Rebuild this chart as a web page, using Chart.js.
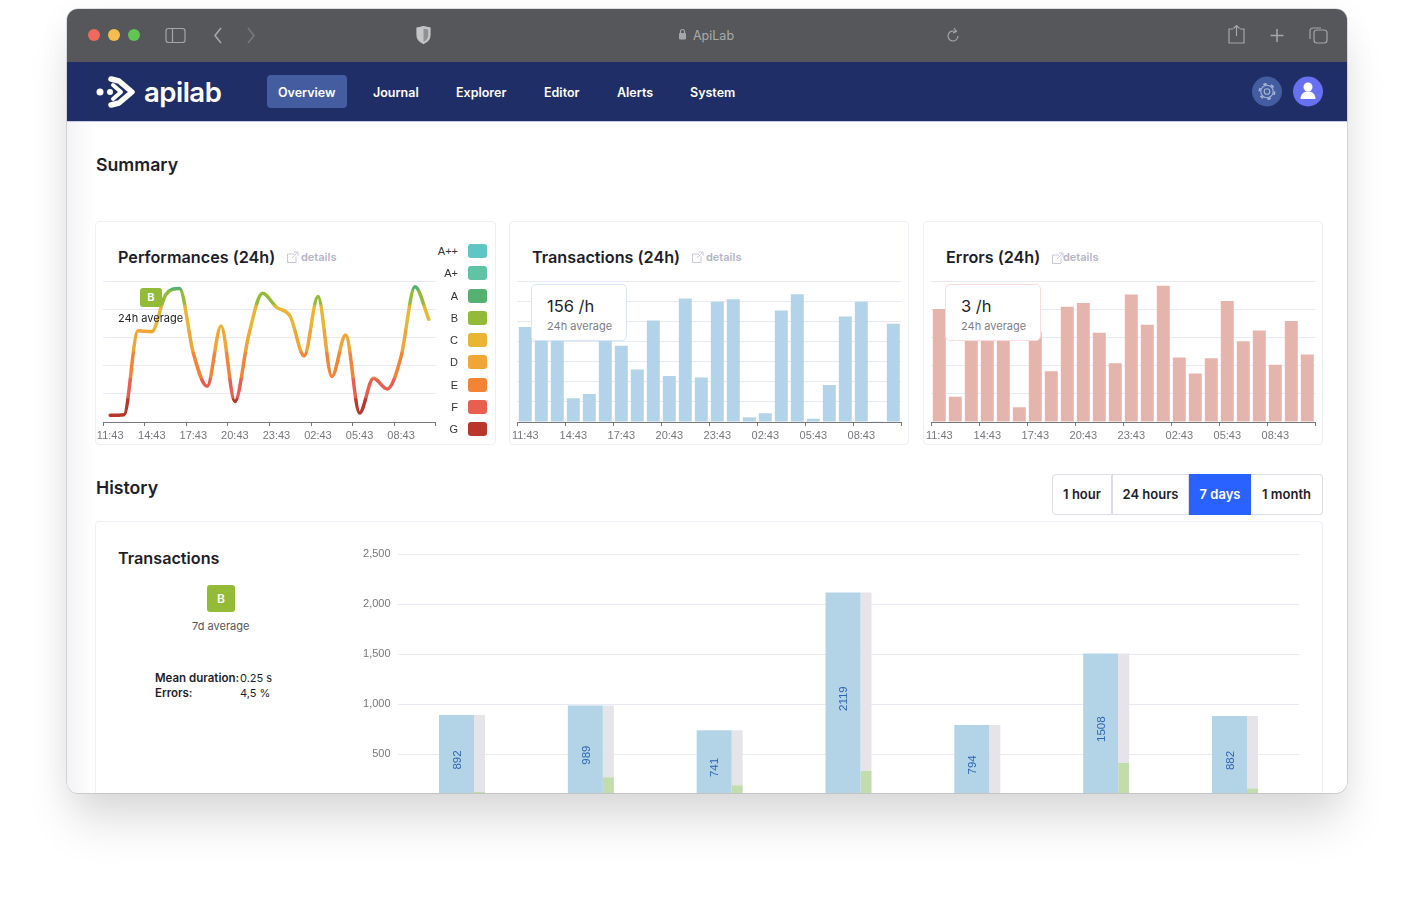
<!DOCTYPE html>
<html>
<head>
<meta charset="utf-8">
<title>ApiLab</title>
<script src="https://cdn.jsdelivr.net/npm/chart.js@4/dist/chart.umd.min.js"></script>
<style>
    html, body { margin: 0; padding: 0; background: #fff; overflow: hidden; }
    body { width: 1414px; height: 918px; position: relative; font-family: Inter, sans-serif; color: #1e1e2a; }
    .abs, canvas { position: absolute; }
    .win { position: absolute; left: 67px; top: 9px; width: 1280px; height: 784px; border-radius: 11px; box-shadow: 0 34px 46px -4px rgba(0,0,0,.12), 0 6px 34px rgba(0,0,0,.05); }
    .clip { position: absolute; left: 67px; top: 9px; width: 1280px; height: 784px; border-radius: 11px; overflow: hidden; background: #fff; box-shadow: 0 0 0 .5px rgba(0,0,0,.22); }
    .inner { position: absolute; left: -67px; top: -9px; width: 1414px; height: 918px; }
    .strip { left: 67px; top: 122px; width: 28px; height: 680px; background: linear-gradient(90deg, #f3f2f5, #fff); }
    .titlebar { left: 67px; top: 9px; width: 1280px; height: 53px; background: #55575a; }
    .navbar { left: 67px; top: 62px; width: 1280px; height: 59px; background: #1f2e66; border-bottom: 1px solid #c9cbe6; }
    .active { left: 267px; top: 75px; width: 80px; height: 33px; border-radius: 4px; background: #435da0; }
    .nav { top: 84.5px; color: #fff; font-size: 12.5px; font-weight: 600; line-height: 16px; white-space: nowrap; }
    .url { left: 693px; top: 27.5px; font-size: 12.5px; line-height: 16px; color: #a9abae; }
    .logo { left: 144px; top: 72px; font-size: 27.5px; line-height: 40px; font-weight: 600; color: #fff; letter-spacing: -.5px; }
    .card { background: #fff; border: 1px solid #eeeef5; border-radius: 4px; box-sizing: border-box; }
    .heading { font-size: 17.7px; font-weight: 600; line-height: 22px; white-space: nowrap; }
    .title { font-size: 16.2px; font-weight: 600; line-height: 20px; white-space: nowrap; }
    .details { font-size: 11px; font-weight: 600; line-height: 14px; color: #b5b4c9; white-space: nowrap; }
    .grade { width: 40px; text-align: right; font-size: 11px; line-height: 14px; color: #333; font-family: "Liberation Sans", sans-serif; }
    .swatch { left: 468px; width: 19px; height: 14px; border-radius: 3px; }
    .badge { background: #93bb37; color: #fff; border-radius: 3px; font-weight: 600; text-align: center; }
    .avg { background: #fff; border-radius: 5px; box-sizing: border-box; width: 96px; height: 57px; top: 284px; }
    .avgv { top: 296px; font-size: 16.5px; line-height: 20px; white-space: nowrap; }
    .avgl { top: 319px; font-size: 11px; line-height: 14px; color: #7d7d86; white-space: nowrap; }
    .btn { top: 474px; height: 41px; box-sizing: border-box; border: 1px solid #dcdce6; font-size: 13px; font-weight: 600; line-height: 39px; text-align: center; background: #fff; white-space: nowrap; }
    .small { font-size: 11px; line-height: 14px; white-space: nowrap; }
    .strong { font-size: 11.5px; font-weight: 600; }
</style>
</head>
<body>
<div class="win"></div>
<div class="clip"><div class="inner">
    <div class="abs strip"></div>
    <div class="abs titlebar"></div>
    <svg class="abs" style="left:67px;top:9px" width="1280" height="53" fill="none" stroke="#a4a6a9" stroke-width="1.2">
        <circle cx="27" cy="26" r="6" fill="#ee6a5f" stroke="none"/>
        <circle cx="47" cy="26" r="6" fill="#f5bd4f" stroke="none"/>
        <circle cx="67" cy="26" r="6" fill="#61c454" stroke="none"/>
        <rect x="99" y="19.5" width="19" height="14" rx="2.5"/><path d="M105.5 19.5v14"/>
        <path d="M154 19l-6 7.500 6 7.500" stroke-width="1.6"/>
        <path d="M181 19l6 7.500-6 7.500" stroke="#77797c" stroke-width="1.6"/>
        <path d="M350 19l6.500-1.500 6.500 1.500v7c0 4-3 7-6.500 8.500-3.500-1.500-6.500-4.500-6.500-8.500z" fill="#c5c6c8" stroke="#c5c6c8"/>
        <path d="M356.500 19.500v13.500c3-1.500 4.700-4 4.700-7v-5.500z" fill="#8f9193" stroke="none"/>
        <rect x="612" y="24" width="7" height="6.500" rx="1" fill="#a4a6a9" stroke="none"/><path d="M613.500 24v-1.500a2 2 0 0 1 4 0v1.500"/>
        <path d="M889 23a5 5 0 1 0 2 4M887 19l2.500 3.500-3.500 1.500"/>
        <path d="M1166 20h-4v14h15v-14h-4M1169.500 27v-10.500M1166.500 19.500l3-3 3 3"/>
        <path d="M1210 20v13M1203.500 26.500h13" stroke-width="1.6"/>
        <rect x="1247" y="21" width="13" height="13" rx="3"/><path d="M1243 30v-8a3 3 0 0 1 3-3h8"/>
    </svg>
    <div class="abs url">ApiLab</div>

    <div class="abs navbar"></div>
    <svg class="abs" style="left:94px;top:74px" width="46" height="36" fill="none" stroke="#fff" stroke-linecap="round" stroke-linejoin="round">
        <circle cx="6" cy="18" r="3.500" fill="#fff" stroke="none"/>
        <circle cx="16" cy="18" r="3" fill="#fff" stroke="none"/>
        <path d="M17 5l8 2 13 11-13 11-8 2" stroke-width="5.500"/>
        <path d="M19 11l8 7-8 7" stroke-width="4"/>
    </svg>
    <div class="abs logo">apilab</div>
    <div class="abs active"></div>
    <div class="abs nav" style="left:278px">Overview</div>
    <div class="abs nav" style="left:373px">Journal</div>
    <div class="abs nav" style="left:456px">Explorer</div>
    <div class="abs nav" style="left:544px">Editor</div>
    <div class="abs nav" style="left:617px">Alerts</div>
    <div class="abs nav" style="left:690px">System</div>
    <svg class="abs" style="left:1251px;top:76px" width="73" height="31">
        <circle cx="16" cy="15.500" r="15" fill="#435da0"/>
        <circle cx="16" cy="15.500" r="2.800" fill="none" stroke="#a9b6d6" stroke-width="1.100"/>
        <circle cx="16" cy="15.500" r="6.200" fill="none" stroke="#a9b6d6" stroke-width="1.100"/>
        <circle cx="16" cy="15.500" r="7.600" fill="none" stroke="#a9b6d6" stroke-width="1.800" stroke-dasharray="3.400 4.560"/>
        <circle cx="57" cy="15.500" r="15" fill="#6670f0"/>
        <circle cx="57" cy="11" r="4.500" fill="#fff"/>
        <path d="M49.500 23c0-5 3-7.500 7.500-7.500s7.500 2.500 7.500 7.500z" fill="#fff"/>
    </svg>

    <div class="abs heading" style="left:96px;top:154px">Summary</div>

    <div class="abs card" style="left:95px;top:221px;width:401px;height:224px"></div>
    <div class="abs card" style="left:509px;top:221px;width:400px;height:224px"></div>
    <div class="abs card" style="left:923px;top:221px;width:400px;height:224px"></div>

    <div class="abs title" style="left:118px;top:247px">Performances (24h)</div>
    <div class="abs details" style="left:301px;top:250px">details</div>
    <div class="abs title" style="left:532px;top:247px">Transactions (24h)</div>
    <div class="abs details" style="left:706px;top:250px">details</div>
    <div class="abs title" style="left:946px;top:247px">Errors (24h)</div>
    <div class="abs details" style="left:1063px;top:250px">details</div>
    <svg class="abs" style="left:0;top:0" width="1414" height="300" fill="none" stroke="#c9c8da" stroke-width="1">
        <path d="M294 254h-6.500v8.500h8.500v-6M292 258l5-5M294 252h4v4"/>
        <path d="M699 254h-6.500v8.500h8.500v-6M697 258l5-5M699 252h4v4"/>
        <path d="M1059 255h-6.500v8.500h8.500v-6M1057 259l5-5M1059 253h4v4"/>
    </svg>

    <canvas id="perfChart" width="360" height="170" style="left:90px;top:275px"></canvas>
    <canvas id="transChart" width="410" height="170" style="left:505px;top:275px"></canvas>
    <canvas id="errorChart" width="410" height="170" style="left:918px;top:275px"></canvas>

    <div id="gradeLegend"></div>
    <div class="abs badge" style="left:140px;top:288px;width:22px;height:19px;font-size:11px;line-height:19px">B</div>
    <div class="abs small" style="left:118px;top:311px;color:#222">24h average</div>

    <div class="abs avg" style="left:531px;border:1px solid #d7e5fb"></div>
    <div class="abs avgv" style="left:547px">156 /h</div>
    <div class="abs avgl" style="left:547px">24h average</div>
    <div class="abs avg" style="left:945px;border:1px solid #fcdcdc"></div>
    <div class="abs avgv" style="left:961px">3 /h</div>
    <div class="abs avgl" style="left:961px">24h average</div>

    <div class="abs heading" style="left:96px;top:477px">History</div>
    <div class="abs btn" style="left:1052px;width:60px;border-radius:4px 0 0 4px">1 hour</div>
    <div class="abs btn" style="left:1112px;width:77px">24 hours</div>
    <div class="abs btn" style="left:1189px;width:62px;background:#2962ff;border-color:#2962ff;color:#fff">7 days</div>
    <div class="abs btn" style="left:1251px;width:72px;border-left:0;border-radius:0 4px 4px 0">1 month</div>

    <div class="abs card" style="left:95px;top:521px;width:1228px;height:400px"></div>
    <div class="abs title" style="left:118px;top:548px">Transactions</div>
    <div class="abs badge" style="left:207px;top:585px;width:28px;height:27px;font-size:12px;line-height:27px">B</div>
    <div class="abs small" style="left:192px;top:619px;color:#555">7d average</div>
    <div class="abs small strong" style="left:155px;top:671px">Mean duration:</div>
    <div class="abs small" style="left:240px;top:671px">0.25 s</div>
    <div class="abs small strong" style="left:155px;top:686px">Errors:</div>
    <div class="abs small" style="left:240px;top:686px">4,5 %</div>

    <canvas id="historyChart" width="970" height="290" style="left:345px;top:540px"></canvas>
</div></div>

<script>
// Chart data
const hourLabels = ['11:43', '12:43', '13:43', '14:43', '15:43', '16:43', '17:43', '18:43', '19:43', '20:43', '21:43', '22:43',
    '23:43', '00:43', '01:43', '02:43', '03:43', '04:43', '05:43', '06:43', '07:43', '08:43', '09:43', '10:43'];
const perfValues = [0.24, 0.26, 3.25, 3.22, 4.53, 4.76, 2.45, 1.27, 3.42, 0.73, 3.10, 4.59,
    4.09, 3.76, 2.36, 4.47, 1.62, 3.10, 0.32, 1.56, 1.18, 2.33, 4.82, 3.66];
const transValues = [237, 225, 225, 59, 70, 220, 190, 131, 253, 115, 308, 111,
    300, 306, 12, 22, 278, 319, 8, 92, 263, 300, 2, 245];
const errorValues = [4.03, 0.90, 3.20, 3.05, 3.10, 0.53, 3.20, 1.81, 4.11, 4.24, 3.18, 2.09,
    4.54, 3.47, 4.86, 2.30, 1.73, 2.27, 4.31, 2.88, 3.26, 2.04, 3.60, 2.41];

const historyDays = ['Mon', 'Tue', 'Wed', 'Thu', 'Fri', 'Sat', 'Sun'];
const historyTotals = [892, 989, 741, 2119, 794, 1508, 882];
const historyOk = [123, 270, 190, 333, 60, 413, 157];
const historyOther = [769, 719, 551, 1786, 734, 1095, 725];

const gradeNames = ['A++', 'A+', 'A', 'B', 'C', 'D', 'E', 'F', 'G'];
const gradeColors = ['#5fc5c5', '#5fc4a4', '#56b06f', '#93bb37', '#e8b535', '#f1a534', '#f58334', '#e85f50', '#b9372a'];
// Lower value limit of grades A to G on the performance axis
const gradeLimits = [4.7, 4.17, 3.3, 2.5, 1.56, 0.85, 0];

const gridColor = '#e9e9f6';
const axisColor = '#77777c';
const tickFont = { family: '"Liberation Sans", sans-serif', size: 11 };

Chart.defaults.animation = false;
Chart.defaults.responsive = false;
Chart.defaults.plugins.legend.display = false;
Chart.defaults.plugins.tooltip.enabled = false;

// Build the legend next to the performance chart
const legend = document.getElementById('gradeLegend');
gradeNames.forEach((name, i) => {
    const y = 251 + i * 22.25;
    legend.innerHTML += `<div class="abs grade" style="left:418px;top:${y - 7}px">${name}</div>` +
        `<div class="abs swatch" style="top:${y - 7}px;background:${gradeColors[i]}"></div>`;
});

// Line colour follows the grade of the value
const perfGradient = (context) => {
    const { ctx, chartArea, scales } = context.chart;
    if (!chartArea) return gradeColors[5];
    const y = scales.y;
    const gradient = ctx.createLinearGradient(0, y.getPixelForValue(0), 0, y.getPixelForValue(5));
    gradeLimits.slice().reverse().forEach((limit, i) => {
        const color = gradeColors[8 - i];
        const upper = i < 6 ? gradeLimits[5 - i] : 5;
        gradient.addColorStop(Math.min((limit + 0.04) / 5, 1), color);
        gradient.addColorStop(Math.min((upper - 0.04) / 5, 1), color);
    });
    return gradient;
};

// Hour axis with a tick every third hour
const hourAxis = () => ({
    afterFit: (scale) => { scale.height = 23; },
    border: { color: axisColor },
    grid: {
        offset: true,
        drawOnChartArea: false,
        tickLength: 4,
        tickColor: (c) => (c.index === undefined || c.index % 3 === 0 ? axisColor : 'transparent')
    },
    ticks: {
        autoSkip: false,
        maxRotation: 0,
        padding: 3,
        color: axisColor,
        font: tickFont,
        callback: (value, i) => (i % 3 === 0 ? hourLabels[i] : '')
    }
});

const hiddenValueAxis = (max, stepSize) => ({
    min: 0,
    max: max,
    afterFit: (scale) => { scale.width = 0; },
    border: { display: false },
    grid: { color: gridColor, drawTicks: false },
    ticks: { display: false, stepSize: stepSize }
});

new Chart(document.getElementById('perfChart'), {
    type: 'line',
    data: {
        labels: hourLabels,
        datasets: [{
            data: perfValues,
            borderColor: perfGradient,
            borderWidth: 3.5,
            borderCapStyle: 'round',
            pointRadius: 0,
            cubicInterpolationMode: 'monotone',
            clip: false
        }]
    },
    options: {
        layout: { padding: { left: 13.3, right: 14.3, top: 6.7, bottom: 0 } },
        scales: { x: Object.assign(hourAxis(), { offset: true }), y: hiddenValueAxis(5, 1) }
    }
});

const hourBars = (id, values, color, max, stepSize, left, right) => new Chart(document.getElementById(id), {
    type: 'bar',
    data: {
        labels: hourLabels,
        datasets: [{ data: values, backgroundColor: color, barPercentage: 0.81, categoryPercentage: 1 }]
    },
    options: {
        layout: { padding: { left: left, right: right, top: 6.7, bottom: 0 } },
        scales: { x: hourAxis(), y: hiddenValueAxis(max, stepSize) }
    }
});

hourBars('transChart', transValues, '#b3d4e8', 350, 50, 12.3, 13.7);
hourBars('errorChart', errorValues, '#e5b5ad', 5, 1, 13.3, 12.7);

// Write the total inside each blue bar, rotated
const barValueLabels = {
    id: 'barValueLabels',
    afterDatasetsDraw(chart) {
        const { ctx } = chart;
        chart.getDatasetMeta(0).data.forEach((bar, i) => {
            ctx.save();
            ctx.translate(bar.x + 1, (bar.y + bar.base) / 2 + 0.5);
            ctx.rotate(-Math.PI / 2);
            ctx.fillStyle = '#2d65b0';
            ctx.font = '11.5px "Liberation Sans", sans-serif';
            ctx.textAlign = 'center';
            ctx.textBaseline = 'middle';
            ctx.fillText(historyTotals[i], 0, 0);
            ctx.restore();
        });
    }
};

new Chart(document.getElementById('historyChart'), {
    type: 'bar',
    plugins: [barValueLabels],
    data: {
        labels: historyDays,
        datasets: [
            { data: historyTotals, backgroundColor: '#b3d3e7', stack: 'total', categoryPercentage: 0.1708, barPercentage: 3.18 },
            { data: historyOk, backgroundColor: '#c2dcac', stack: 'status', categoryPercentage: 0.5435, barPercentage: 0.314 },
            { data: historyOther, backgroundColor: '#e6e4e9', stack: 'status', categoryPercentage: 0.5435, barPercentage: 0.314 }
        ]
    },
    options: {
        layout: { padding: { left: 0, right: 15.6, top: 14.3, bottom: 0 } },
        scales: {
            x: {
                stacked: true,
                afterFit: (scale) => { scale.height = 25.7; },
                grid: { display: false },
                border: { display: false },
                ticks: { display: false }
            },
            y: {
                stacked: true,
                min: 0,
                max: 2500,
                afterFit: (scale) => { scale.width = 52.6; },
                border: { display: false },
                grid: { color: gridColor, drawTicks: false },
                ticks: { stepSize: 500, padding: 7, color: axisColor, font: tickFont }
            }
        }
    }
});
</script>
</body>
</html>
